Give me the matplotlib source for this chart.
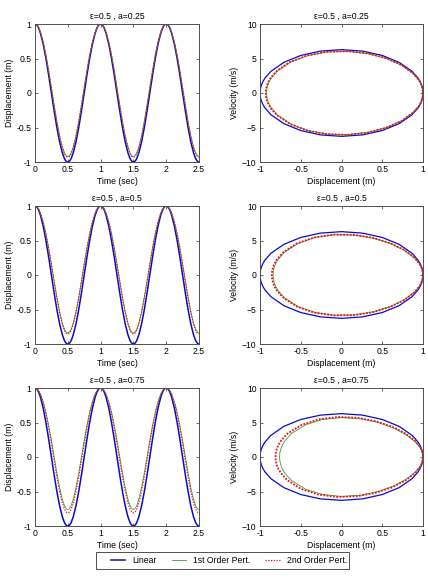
import matplotlib
matplotlib.use("Agg")
import matplotlib.pyplot as plt
from matplotlib.patches import Rectangle

plt.rcParams['font.family'] = ['Liberation Sans', 'DejaVu Sans']
plt.rcParams['font.size'] = 6.2

phase_deg = [0, 5, 10, 15, 20, 30, 45, 60, 75, 90, 105, 120, 135, 150, 160, 165, 170, 175, 180]

# linear solution, same in every row
lin_x = [1, .996, .985, .966, .940, .866, .707, .5, .259, 0, -.259, -.5, -.707, -.866, -.940, -.966, -.985, -.996, -1]
lin_v = [0, -.548, -1.091, -1.626, -2.149, -3.142, -4.443, -5.441, -6.069, -6.283, -6.069, -5.441, -4.443, -3.142, -2.149, -1.626, -1.091, -.548, 0]

# a = 0.25
p1_x_025 = [1, .997, .987, .970, .947, .881, .739, .550, .326, .080, -.171, -.410, -.619, -.781, -.857, -.885, -.904, -.916, -.920]
p1_v_025 = [0, -.482, -.961, -1.435, -1.901, -2.799, -4.014, -5.006, -5.701, -6.032, -5.952, -5.441, -4.517, -3.234, -2.225, -1.687, -1.133, -.570, 0]
p2_x_025 = [1, .997, .986, .970, .946, .879, .735, .544, .318, .070, -.182, -.421, -.630, -.792, -.868, -.895, -.914, -.926, -.930]
p2_v_025 = [0, -.491, -.978, -1.459, -1.932, -2.842, -4.068, -5.060, -5.747, -6.063, -5.967, -5.441, -4.507, -3.222, -2.215, -1.679, -1.128, -.567, 0]

# a = 0.5
p1_x_05 = [1, .997, .988, .974, .954, .897, .770, .600, .393, .160, -.084, -.320, -.530, -.697, -.775, -.803, -.824, -.836, -.840]
p1_v_05 = [0, -.417, -.832, -1.245, -1.654, -2.455, -3.585, -4.570, -5.332, -5.780, -5.835, -5.441, -4.590, -3.326, -2.300, -1.747, -1.176, -.591, 0]
p2_x_05 = [1, .997, .988, .973, .953, .894, .765, .591, .380, .145, -.100, -.337, -.547, -.713, -.791, -.819, -.839, -.851, -.855]
p2_v_05 = [0, -.429, -.856, -1.280, -1.700, -2.520, -3.666, -4.652, -5.401, -5.828, -5.857, -5.441, -4.577, -3.309, -2.286, -1.736, -1.168, -.587, 0]

# a = 0.75
p1_x_075 = [1, .998, .990, .978, .961, .912, .802, .650, .460, .240, .004, -.230, -.442, -.612, -.693, -.722, -.743, -.756, -.760]
p1_v_075 = [0, -.351, -.702, -1.054, -1.407, -2.112, -3.156, -4.135, -4.964, -5.529, -5.718, -5.441, -4.664, -3.418, -2.376, -1.808, -1.218, -.613, 0]
p2_x_075 = [1, .997, .989, .976, .957, .903, .782, .619, .418, .190, -.051, -.286, -.497, -.665, -.744, -.773, -.793, -.806, -.810]
p2_v_075 = [0, -.392, -.783, -1.173, -1.561, -2.327, -3.424, -4.407, -5.194, -5.686, -5.791, -5.441, -4.618, -3.361, -2.329, -1.770, -1.192, -.600, 0]

titles = ["\u03b5=0.5 , a=0.25", "\u03b5=0.5 , a=0.5", "\u03b5=0.5 , a=0.75"]
rows = [(p1_x_025, p1_v_025, p2_x_025, p2_v_025),
        (p1_x_05, p1_v_05, p2_x_05, p2_v_05),
        (p1_x_075, p1_v_075, p2_x_075, p2_v_075)]

time_ticks = [0, 0.5, 1, 1.5, 2, 2.5]
disp_ticks = [-1, -0.5, 0, 0.5, 1]
vel_ticks = [-10, -5, 0, 5, 10]
legend_labels = ["Linear", "1st Order Pert.", "2nd Order Pert."]

BLUE = '#0a0ad0'
GREEN = '#3c9c3c'
RED = '#ee1010'
FRAME = '#505050'


def full_cycle(x_half, v_half):
    deg = phase_deg + [360 - d for d in phase_deg[-2::-1]]
    x = x_half + x_half[-2::-1]
    v = v_half + [-val for val in v_half[-2::-1]]
    return deg, x, v


def time_series(x_half, v_half):
    deg, x, v = full_cycle(x_half, v_half)
    t_all, x_all = [], []
    for cyc in range(3):
        for d, val in zip(deg, x):
            tt = cyc + d / 360.0
            if tt <= 2.5 + 1e-9 and (cyc == 0 or d > 0):
                t_all.append(tt)
                x_all.append(val)
    return t_all, x_all


def style_axes(ax):
    for s in ax.spines.values():
        s.set_color(FRAME)
        s.set_linewidth(0.7)
    ax.tick_params(direction='in', length=2.5, width=0.6, color=FRAME,
                   top=True, right=True, labelsize=6.2, pad=2.5)


fig = plt.figure(figsize=(4.28, 5.84), dpi=100)
W, H = 428.0, 584.0
row_tops = [24, 206, 388]
ax_h = 138

handles = []
for i in range(3):
    px1, pv1, px2, pv2 = rows[i]
    bottom = (H - row_tops[i] - ax_h) / H

    # displacement vs time
    ax = fig.add_axes([35 / W, bottom, 164 / W, ax_h / H])
    t, x = time_series(lin_x, lin_v)
    h1, = ax.plot(t, x, color=BLUE, lw=1.1)
    t, x = time_series(px1, pv1)
    h2, = ax.plot(t, x, color=GREEN, lw=0.6)
    t, x = time_series(px2, pv2)
    h3, = ax.plot(t, x, color=RED, lw=0.9, ls=(0, (1, 1.2)))
    ax.set_xlim(0, 2.5)
    ax.set_ylim(-1, 1)
    ax.set_xticks(time_ticks)
    ax.set_xticklabels(["0", "0.5", "1", "1.5", "2", "2.5"])
    ax.set_yticks(disp_ticks)
    ax.set_yticklabels(["-1", "-0.5", "0", "0.5", "1"])
    ax.set_xlabel("Time (sec)", labelpad=1.5)
    ax.set_ylabel("Displacement (m)", labelpad=2)
    ax.set_title(titles[i], fontsize=6.2, pad=4)
    style_axes(ax)
    if i == 0:
        handles = [h1, h2, h3]

    # phase plane
    ax = fig.add_axes([260 / W, bottom, 163 / W, ax_h / H])
    _, x, v = full_cycle(lin_x, lin_v)
    ax.plot(x, v, color=BLUE, lw=0.9)
    _, x, v = full_cycle(px1, pv1)
    ax.plot(x, v, color=GREEN, lw=0.6)
    _, x, v = full_cycle(px2, pv2)
    ax.plot(x, v, color=RED, lw=1.3, ls=(0, (1, 0.8)))
    ax.set_xlim(-1, 1)
    ax.set_ylim(-10, 10)
    ax.set_xticks(disp_ticks)
    ax.set_xticklabels(["-1", "-0.5", "0", "0.5", "1"])
    ax.set_yticks(vel_ticks)
    ax.set_xlabel("Displacement (m)", labelpad=1.5)
    ax.set_ylabel("Velocity (m/s)", labelpad=2)
    ax.set_title(titles[i], fontsize=6.2, pad=4)
    style_axes(ax)

# legend box drawn by hand (wider side padding than matplotlib gives)
fig.patches.append(Rectangle((96 / W, 15 / H), 253 / W, 17 / H,
                             transform=fig.transFigure, fill=False,
                             edgecolor=FRAME, linewidth=0.7))
leg = fig.legend(handles, legend_labels, loc='center', ncol=3,
                 bbox_to_anchor=(229 / W, 23.5 / H), frameon=False,
                 fontsize=6.2, handlelength=1.7, columnspacing=1.75,
                 handletextpad=0.8, borderpad=0.2)

fig.savefig("out.png", dpi=100)
